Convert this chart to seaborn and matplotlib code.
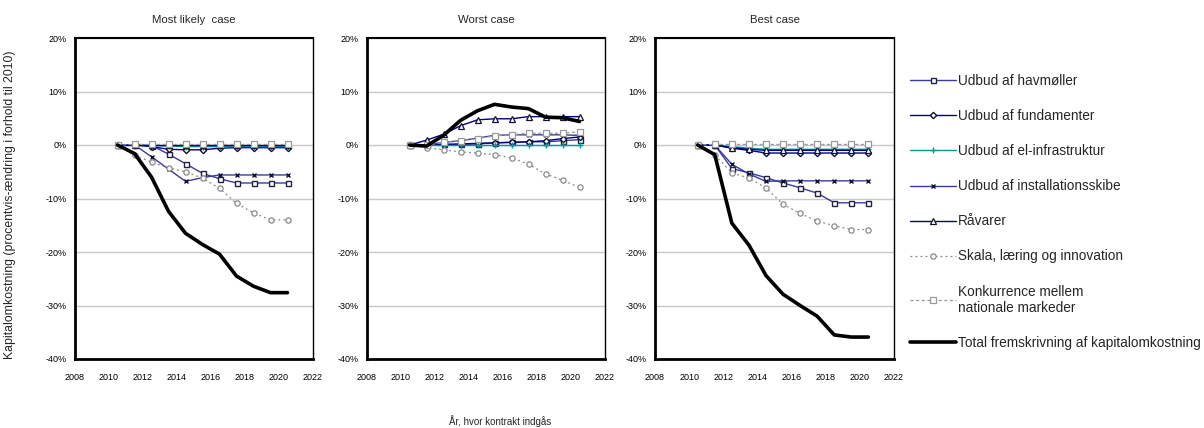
import matplotlib
matplotlib.use("Agg")
import matplotlib.pyplot as plt
import seaborn as sns
import pandas as pd

# ---------------- data ----------------
years = [2010.5, 2011.5, 2012.5, 2013.5, 2014.5, 2015.5, 2016.5, 2017.5, 2018.5, 2019.5, 2020.5]

panel_titles = ["Most likely  case", "Worst case", "Best case"]

series_names = [
    "Udbud af havmøller",
    "Udbud af fundamenter",
    "Udbud af el-infrastruktur",
    "Udbud af installationsskibe",
    "Råvarer",
    "Skala, læring og innovation",
    "Konkurrence mellem\nnationale markeder",
    "Total fremskrivning af kapitalomkostning",
]

# Most likely case (percent)
hav_ml = [0, 0, -0.1, -1.7, -3.5, -5.3, -6.3, -7.1, -7.1, -7.1, -7.1]
fund_ml = [0, 0, -0.3, -0.8, -0.9, -0.9, -0.6, -0.5, -0.5, -0.5, -0.5]
el_ml = [0, 0, -0.1, -0.2, -0.3, -0.3, -0.3, -0.3, -0.3, -0.3, -0.3]
inst_ml = [0, 0, -2.2, -4.5, -6.8, -6.1, -5.6, -5.6, -5.6, -5.6, -5.6]
rav_ml = [0, 0, 0, 0, 0, 0, 0, 0, 0, 0, 0]
skala_ml = [0, -1.9, -3.2, -4.3, -5.0, -6.2, -8.1, -10.9, -12.7, -14.0, -14.0]
konk_ml = [0, 0.1, 0.1, 0.1, 0.1, 0.1, 0.1, 0.1, 0.1, 0.1, 0.1]
total_ml = [0, -1.6, -6.0, -12.4, -16.5, -18.6, -20.4, -24.5, -26.4, -27.6, -27.6]

# Worst case (percent)
hav_w = [0, 0, 0.1, 0.1, 0.2, 0.4, 0.5, 0.6, 0.6, 0.8, 1.0]
fund_w = [0, 0, 0.1, 0.2, 0.3, 0.4, 0.5, 0.6, 0.8, 1.2, 1.5]
el_w = [0, 0, 0, 0, 0, 0, 0, 0, 0, 0, 0]
inst_w = [0, 0, 0.5, 0.8, 1.3, 1.8, 1.9, 1.9, 1.9, 1.9, 1.8]
rav_w = [0, 0.9, 2.0, 3.6, 4.7, 4.9, 4.9, 5.3, 5.3, 5.3, 5.3]
skala_w = [0, -0.5, -0.9, -1.3, -1.5, -1.8, -2.4, -3.6, -5.4, -6.6, -7.9]
konk_w = [0, 0, 0.5, 0.8, 1.2, 1.7, 1.9, 2.2, 2.2, 2.2, 2.5]
total_w = [0, -0.2, 1.8, 4.6, 6.4, 7.6, 7.1, 6.8, 5.2, 5.1, 4.4]

# Best case (percent)
hav_b = [0, 0, -4.4, -5.2, -6.1, -7.1, -8.0, -9.0, -10.8, -10.8, -10.8]
fund_b = [0, 0, -0.6, -1.0, -1.5, -1.5, -1.5, -1.5, -1.5, -1.5, -1.5]
el_b = [0, 0, -0.3, -0.6, -0.8, -0.8, -0.8, -0.8, -0.8, -0.8, -0.8]
inst_b = [0, 0, -3.6, -5.4, -6.8, -6.7, -6.7, -6.7, -6.7, -6.7, -6.7]
rav_b = [0, 0, -0.5, -0.8, -1.0, -1.0, -1.0, -1.0, -1.0, -1.0, -1.0]
skala_b = [0, -1.9, -5.2, -6.2, -8.0, -11.1, -12.8, -14.2, -15.1, -15.8, -15.8]
konk_b = [0, 0.1, 0.1, 0.1, 0.1, 0.1, 0.1, 0.1, 0.1, 0.1, 0.1]
total_b = [0, -1.8, -14.6, -18.7, -24.4, -27.9, -30.0, -32.0, -35.5, -35.9, -35.9]

panels = [
    [hav_ml, fund_ml, el_ml, inst_ml, rav_ml, skala_ml, konk_ml, total_ml],
    [hav_w, fund_w, el_w, inst_w, rav_w, skala_w, konk_w, total_w],
    [hav_b, fund_b, el_b, inst_b, rav_b, skala_b, konk_b, total_b],
]

y_ticks = [-40, -30, -20, -10, 0, 10, 20]
x_ticks = [2008, 2010, 2012, 2014, 2016, 2018, 2020, 2022]

# ---------------- styles ----------------
styles = [
    dict(color="#3A3AA0", lw=1.0, ls="-", marker="s", ms=3.6, mfc="white", mec="#222244", mew=1.0),
    dict(color="#000080", lw=1.0, ls="-", marker="D", ms=3.2, mfc="white", mec="#111133", mew=1.0),
    dict(color="#009999", lw=1.0, ls="-", marker="+", ms=4.5, mfc="none", mec="#009999", mew=1.0),
    dict(color="#3A3AA0", lw=1.0, ls="-", marker="x", ms=3.4, mfc="none", mec="#111133", mew=1.0),
    dict(color="#000080", lw=1.0, ls="-", marker="^", ms=4.2, mfc="white", mec="#111133", mew=0.9),
    dict(color="#888888", lw=0.9, ls=(0, (1.5, 2.5)), marker="o", ms=3.8, mfc="white", mec="#8A8A8A", mew=0.9),
    dict(color="#999999", lw=0.9, ls=(0, (2.5, 2.0)), marker="s", ms=3.8, mfc="white", mec="#999999", mew=0.9),
    dict(color="black", lw=2.6, ls="-", marker=None),
]

sns.set_style("white")
plt.rcParams["font.family"] = ["Liberation Sans", "DejaVu Sans"]
narrow = ["Liberation Sans Narrow", "Liberation Sans", "DejaVu Sans"]

W, H = 1204, 428
fig = plt.figure(figsize=(W / 100, H / 100), dpi=100)

ax_px = [(75, 313), (367, 605), (655, 894)]
top_px, bot_px = 38, 359

handles = None
for i, (xl, xr) in enumerate(ax_px):
    ax = fig.add_axes([xl / W, 1 - bot_px / H, (xr - xl) / W, (bot_px - top_px) / H])
    hs = []
    for name, vals, st in zip(series_names, panels[i], styles):
        df = pd.DataFrame({"year": years, "value": vals})
        kw = dict(st)
        sns.lineplot(data=df, x="year", y="value", ax=ax,
                     color=kw.pop("color"), linewidth=kw.pop("lw"),
                     linestyle=kw.pop("ls"), marker=kw.pop("marker"),
                     markersize=kw.pop("ms", None), markerfacecolor=kw.pop("mfc", None),
                     markeredgecolor=kw.pop("mec", None), markeredgewidth=kw.pop("mew", None),
                     label=name, legend=False, zorder=3)
        hs.append(ax.lines[-1])
    if handles is None:
        handles = hs
    ax.set_xlim(2008, 2022)
    ax.set_ylim(-40, 20)
    ax.set_xticks(x_ticks)
    ax.set_yticks(y_ticks)
    ax.set_xticklabels([str(t) for t in x_ticks], fontsize=6.5, family=narrow)
    ax.set_yticklabels([f"{t}%" for t in y_ticks], fontsize=6.5, family=narrow)
    ax.set_xlabel("")
    ax.set_ylabel("")
    ax.yaxis.grid(True, color="#C8C8C8", lw=1.0, zorder=0)
    ax.xaxis.grid(False)
    ax.set_axisbelow(True)
    ax.tick_params(axis="both", direction="out", length=3, width=1, colors="black", pad=3)
    ax.tick_params(axis="x", pad=7)
    for sp, lw in (("left", 2.0), ("bottom", 2.0), ("top", 1.5), ("right", 1.0)):
        ax.spines[sp].set_visible(True)
        ax.spines[sp].set_color("black")
        ax.spines[sp].set_linewidth(lw)
    ax.set_title(panel_titles[i], fontsize=8.2, pad=11)

fig.text(10 / W, 1 - 205 / H, "Kapitalomkostning (procentvis-ændring i forhold til 2010)",
         rotation=90, ha="center", va="center", fontsize=8.8)
fig.text(500 / W, 1 - 421 / H, "År, hvor kontrakt indgås", ha="center", va="center", fontsize=7)

fig.legend(handles, series_names, loc="upper left", bbox_to_anchor=(910 / W, 1 - 74 / H),
           frameon=False, fontsize=9.8, handlelength=3.4, handletextpad=0.15,
           labelspacing=1.55, borderpad=0, borderaxespad=0, numpoints=1)

fig.savefig("out.png", dpi=100)
